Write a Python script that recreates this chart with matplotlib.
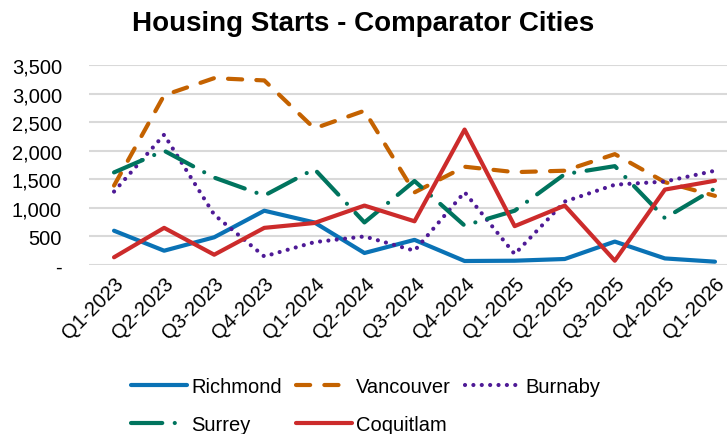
import numpy as np
import matplotlib.pyplot as plt
from matplotlib.ticker import FuncFormatter

plt.rcParams['font.family'] = ['Liberation Sans', 'DejaVu Sans']

quarters = ["Q1-2023", "Q2-2023", "Q3-2023", "Q4-2023", "Q1-2024", "Q2-2024",
            "Q3-2024", "Q4-2024", "Q1-2025", "Q2-2025", "Q3-2025", "Q4-2025", "Q1-2026"]

richmond = [600, 250, 485, 950, 745, 210, 440, 70, 75, 105, 410, 115, 58]
vancouver = [1390, 2970, 3270, 3230, 2390, 2700, 1270, 1720, 1625, 1650, 1940, 1450, 1210]
burnaby = [1285, 2280, 880, 150, 400, 500, 250, 1275, 190, 1110, 1405, 1460, 1650]
surrey = [1620, 2000, 1530, 1215, 1680, 745, 1470, 690, 950, 1590, 1730, 820, 1340]
coquitlam = [135, 650, 180, 650, 735, 1040, 765, 2370, 680, 1040, 75, 1320, 1475]

fig = plt.figure(figsize=(7.27, 4.35), dpi=100)
ax = fig.add_axes([89/727, (435-266)/435, 1 - 89/727, 200/435])

x = np.arange(len(quarters))
lw = 3.0
h_ri, = ax.plot(x, richmond, color="#0A72B5", lw=lw, label="Richmond", solid_capstyle="round")
h_va, = ax.plot(x, vancouver, color="#C46200", lw=lw, label="Vancouver",
                dashes=(3.4, 3.4), dash_capstyle="round")
h_bu, = ax.plot(x, burnaby, color="#4E1A96", lw=lw, label="Burnaby",
                dashes=(0.01, 2.0), dash_capstyle="round")
h_su, = ax.plot(x, surrey, color="#00745E", lw=lw, label="Surrey",
                dashes=(7.5, 3.0, 0.01, 3.0), dash_capstyle="round")
h_co, = ax.plot(x, coquitlam, color="#CC2B2B", lw=lw, label="Coquitlam", solid_capstyle="round")

ax.set_xlim(-0.5, 12.24)
ax.set_ylim(0, 3500)
ax.set_yticks(np.arange(0, 3501, 500))
ax.yaxis.set_major_formatter(FuncFormatter(lambda v, p: "-" if v == 0 else f"{int(v):,}"))
ax.set_xticks(x)
ax.set_xticklabels(quarters, rotation=45, ha="right", rotation_mode="anchor")
ax.tick_params(axis="both", length=0, labelsize=14.5, colors="black")
ax.tick_params(axis="y", pad=19.5)
ax.tick_params(axis="x", pad=6)
ax.grid(axis="y", color="#D9D9D9", lw=1.5)
ax.set_axisbelow(True)
for s in ax.spines.values():
    s.set_visible(False)

fig.suptitle("Housing Starts - Comparator Cities", fontsize=20, fontweight="bold", y=0.975)

# column-major fill -> reorder so rows read Richmond, Vancouver, Burnaby / Surrey, Coquitlam
handles = [h_ri, h_su, h_va, h_co, h_bu]
fig.legend(handles, [h.get_label() for h in handles],
           loc="upper center", bbox_to_anchor=(0.503, 0.155), ncol=3, frameon=False,
           fontsize=14.5, handlelength=2.8, handletextpad=0.2, columnspacing=0.7,
           labelspacing=0.95, borderpad=0)

plt.savefig("out.png", dpi=100)
